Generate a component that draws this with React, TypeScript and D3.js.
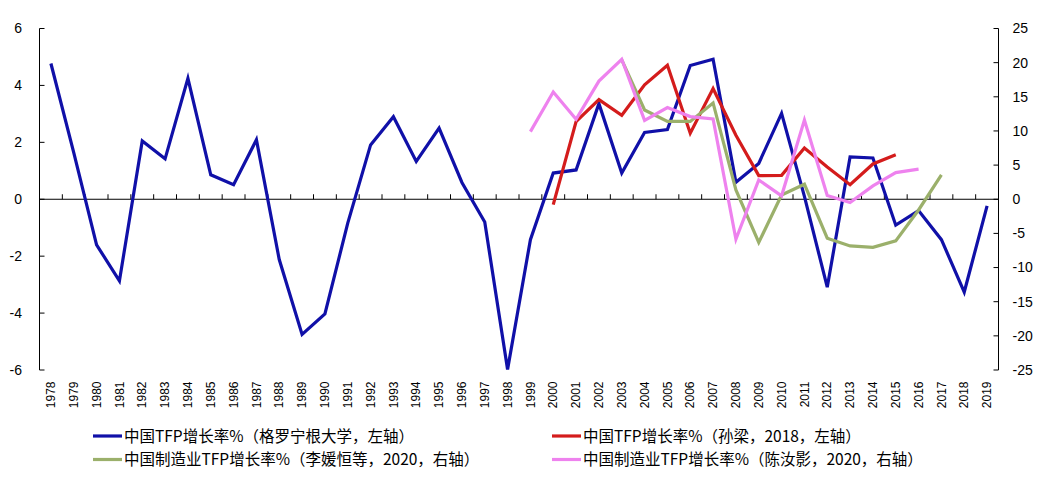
import React from "react";
import * as d3 from "d3";

const years: number[] = d3.range(1978, 2020);

const blueYears = d3.range(1978, 2020);
const blueValues = [4.77, 1.64, -1.6, -2.87, 2.05, 1.42, 4.25, 0.86, 0.51, 2.09, -2.12, -4.75, -4.03, -0.84, 1.91, 2.9, 1.33, 2.5, 0.59, -0.8, -5.98, -1.42,
  0.92, 1.03, 3.36, 0.92, 2.35, 2.45, 4.7, 4.92, 0.6, 1.26, 3.02, 0.1, -3.09, 1.49, 1.45, -0.91, -0.4, -1.42, -3.26, -0.23];

const redYears = d3.range(2000, 2016);
const redValues = [-0.19, 2.73, 3.5, 2.95, 4.02, 4.71, 2.32, 3.89, 2.25, 0.83, 0.84, 1.8, 1.13, 0.51, 1.24, 1.56];

const greenYears = d3.range(2003, 2018);
const greenValues = [20.4, 13.07, 11.4, 11.4, 14.1, 1.36, -6.33, 0.63, 2.2, -5.7, -6.84, -7.05, -6.1, -1.57, 3.56];

const pinkYears = d3.range(1999, 2017);
const pinkValues = [9.9, 15.7, 11.7, 17.3, 20.5, 11.55, 13.43, 12.1, 11.75, -5.86, 2.83, 0.5, 11.6, 0.55, -0.48, 1.95, 3.9, 4.4];

const leftTicks = [6, 4, 2, 0, -2, -4, -6];
const rightTicks = [25, 20, 15, 10, 5, 0, -5, -10, -15, -20, -25];

const legendLabels = [
  "中国TFP增长率%（格罗宁根大学，左轴）",
  "中国TFP增长率%（孙梁，2018，左轴）",
  "中国制造业TFP增长率%（李媛恒等，2020，右轴）",
  "中国制造业TFP增长率%（陈汝影，2020，右轴）",
];

const COLORS = { blue: "#1010A8", red: "#D41C1C", green: "#9BB06B", pink: "#EE82EE" };

export default function App() {
  const W = 1044, H = 492;
  const x0 = 39.5, x1 = 998.5, yTop = 28.5, yBot = 370;
  const x = d3.scaleBand<number>().domain(years).range([x0, x1]).padding(0);
  const cx = (yr: number) => (x(yr) as number) + x.bandwidth() / 2;
  const yL = d3.scaleLinear().domain([-6, 6]).range([yBot, yTop]);
  const yR = d3.scaleLinear().domain([-25, 25]).range([yBot, yTop]);
  const zeroY = yL(0);

  const mk = (ys: number[], vs: number[], sc: d3.ScaleLinear<number, number>) =>
    d3.line<number>().x((_, i) => cx(ys[i])).y((v) => sc(v))(vs) || "";

  const series = [
    { d: mk(blueYears, blueValues, yL), c: COLORS.blue },
    { d: mk(redYears, redValues, yL), c: COLORS.red },
    { d: mk(greenYears, greenValues, yR), c: COLORS.green },
    { d: mk(pinkYears, pinkValues, yR), c: COLORS.pink },
  ];

  const tickFont = "'Liberation Sans', Arial, sans-serif";
  const cjkFont = "'Noto Sans CJK SC', sans-serif";

  const legendItems = [
    { x: 93, y: 436, c: COLORS.blue, t: legendLabels[0] },
    { x: 552, y: 436, c: COLORS.red, t: legendLabels[1] },
    { x: 93, y: 459.5, c: COLORS.green, t: legendLabels[2] },
    { x: 552, y: 459.5, c: COLORS.pink, t: legendLabels[3] },
  ];

  return (
    <svg width={W} height={H} style={{ position: "absolute", left: 0, top: 0, background: "#fff" }}>
      {/* x axis (zero line) */}
      <line x1={x0} x2={x1} y1={zeroY} y2={zeroY} stroke="#000" strokeWidth={1} />
      {d3.range(0, years.length + 1).map((i) => {
        const xx = x0 + i * x.step();
        return <line key={"xt" + i} x1={xx} x2={xx} y1={zeroY} y2={zeroY - 5} stroke="#000" strokeWidth={1} />;
      })}
      {/* left axis */}
      <line x1={x0} x2={x0} y1={yTop} y2={yBot} stroke="#000" strokeWidth={1} />
      {leftTicks.map((t) => (
        <g key={"l" + t}>
          <line x1={x0} x2={x0 + 5} y1={yL(t)} y2={yL(t)} stroke="#000" strokeWidth={1} />
          <text x={22} y={yL(t)} dy="0.35em" textAnchor="end" fontSize={14} fontFamily={tickFont} fill="#000">{t}</text>
        </g>
      ))}
      {/* right axis */}
      <line x1={x1} x2={x1} y1={yTop} y2={yBot} stroke="#000" strokeWidth={1} />
      {rightTicks.map((t) => (
        <g key={"r" + t}>
          <line x1={x1 - 5} x2={x1} y1={yR(t)} y2={yR(t)} stroke="#000" strokeWidth={1} />
          <text x={1012.5} y={yR(t)} dy="0.35em" textAnchor="start" fontSize={14} fontFamily={tickFont} fill="#000">{t}</text>
        </g>
      ))}
      {/* x labels */}
      {years.map((yr) => (
        <text key={"xl" + yr} transform={`translate(${cx(yr)},381.5) rotate(-90)`} dy="0.35em" textAnchor="end"
          fontSize={12} fontFamily={tickFont} fill="#000">{yr}</text>
      ))}
      {/* series */}
      {series.map((s, i) => (
        <path key={"s" + i} d={s.d} fill="none" stroke={s.c} strokeWidth={3.2} strokeLinejoin="miter" strokeLinecap="butt" />
      ))}
      {/* legend */}
      {legendItems.map((l, i) => (
        <g key={"lg" + i}>
          <line x1={l.x} x2={l.x + 29} y1={l.y} y2={l.y} stroke={l.c} strokeWidth={3.2} />
          <text x={l.x + 31} y={l.y} dy="0.36em" fontSize={15.5} fontFamily={cjkFont} fill="#000">{l.t}</text>
        </g>
      ))}
    </svg>
  );
}
